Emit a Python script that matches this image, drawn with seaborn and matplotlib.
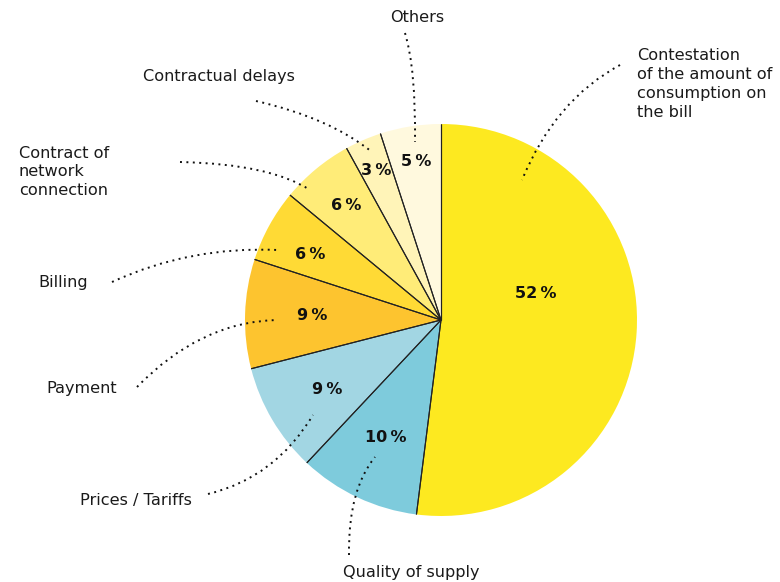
import numpy as np
import matplotlib
matplotlib.use("Agg")
import matplotlib.pyplot as plt
from matplotlib.path import Path
from matplotlib.patches import PathPatch
import seaborn as sns

# Complaint categories, clockwise from 12 o'clock
categories = [
    "Contestation\nof the amount of\nconsumption on\nthe bill",
    "Quality of supply",
    "Prices / Tariffs",
    "Payment",
    "Billing",
    "Contract of\nnetwork\nconnection",
    "Contractual delays",
    "Others",
]
shares = [52, 10, 9, 9, 6, 6, 3, 5]
pct_labels = [f"{v}\u2009%" for v in shares]

colors = ["#FDE920", "#7ECBDC", "#A2D6E3", "#FDC42F",
          "#FFDA35", "#FFEC78", "#FFF4B8", "#FFF9DE"]

sns.set_theme(style="white")
plt.rcParams["font.family"] = ["DejaVu Sans"]

W, H = 780, 582
fig = plt.figure(figsize=(W / 100, H / 100), dpi=100)
ax = fig.add_axes([0, 0, 1, 1])

cx, cy, R = 441, H - 320, 196

wedges, _ = ax.pie(shares, colors=colors, startangle=90, counterclock=False,
                   center=(cx, cy), radius=R, frame=True,
                   wedgeprops=dict(linewidth=0))
ax.set_xlim(0, W)
ax.set_ylim(0, H)
ax.axis("off")

# radial separators between slices (no outline on the outer arc)
for w in wedges:
    for ang in (w.theta1, w.theta2):
        t = np.deg2rad(ang)
        ax.plot([cx, cx + R * np.cos(t)], [cy, cy + R * np.sin(t)],
                color="#222222", lw=0.8, solid_capstyle="butt", zorder=3)

# percentage labels inside slices: (radius fraction, angle shift in degrees)
pct_place = [(0.50, 19), (0.66, 0), (0.68, 1), (0.66, 0),
             (0.745, 2), (0.76, 0), (0.83, 0), (0.82, 0)]
for w, txt, (fr, shift) in zip(wedges, pct_labels, pct_place):
    mid = np.deg2rad((w.theta1 + w.theta2) / 2 + shift)
    ax.text(cx + fr * R * np.cos(mid), cy + fr * R * np.sin(mid), txt,
            ha="center", va="center", fontsize=11.5, fontweight="heavy",
            color="#111111", zorder=4)

# category labels: (x, y, ha, va) in pixel space from top-left
name_place = [
    (637, 48, "left", "top"),
    (411, 573, "center", "center"),
    (80, 501, "left", "center"),
    (46, 388, "left", "center"),
    (38, 282, "left", "center"),
    (19, 172, "left", "center"),
    (143, 76, "left", "center"),
    (417, 17, "center", "center"),
]
for txt, (x, y, ha, va) in zip(categories, name_place):
    ax.text(x, H - y, txt, ha=ha, va=va, fontsize=11.6, color="#1a1a1a",
            linespacing=1.33)

# dotted curved leader lines: (start, control, end) in pixel space
leaders = [
    ((620, 65), (555, 100), (522, 180)),
    ((349, 555), (348, 490), (375, 457)),
    ((208, 494), (275, 478), (313, 415)),
    ((137, 387), (200, 322), (277, 320)),
    ((112, 282), (190, 246), (278, 250)),
    ((180, 162), (270, 164), (310, 190)),
    ((256, 101), (330, 118), (372, 152)),
    ((405, 33), (416, 70), (415, 142)),
]
for p0, p1, p2 in leaders:
    verts = [(p[0], H - p[1]) for p in (p0, p1, p2)]
    path = Path(verts, [Path.MOVETO, Path.CURVE3, Path.CURVE3])
    ax.add_patch(PathPatch(path, fill=False, edgecolor="#111111", lw=1.4,
                           linestyle=(0, (1.0, 2.3)), capstyle="butt",
                           zorder=5))

fig.savefig("out.png", dpi=100, facecolor="white")
